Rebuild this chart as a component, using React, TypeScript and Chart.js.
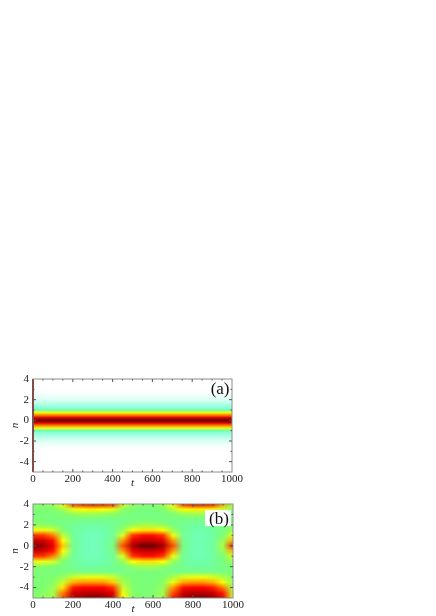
import React, { useEffect, useRef } from "react";
import { Chart, registerables } from "chart.js";

Chart.register(...registerables);

const xTicks = [0, 200, 400, 600, 800, 1000];
const xMinorTicks = [50, 100, 150, 200, 250, 300, 350, 400, 450, 500, 550, 600, 650, 700, 750, 800, 850, 900, 950];
const yTicks = [4, 2, 0, -2, -4];
const yMinorTicks = [3, 2, 1, 0, -1, -2, -3, -4];

const rowsA = [4, 3.75, 3.5, 3.25, 3, 2.75, 2.5, 2.25, 2, 1.75, 1.5, 1.25, 1, 0.75, 0.5, 0.25, 0, -0.25, -0.5, -0.75, -1, -1.25, -1.5, -1.75, -2, -2.25, -2.5, -2.75, -3, -3.25, -3.5, -3.75, -4, -4.25, -4.5, -4.75, -5];
const colsA = [0, 1000];
const profileA = [0, 0, 0, 0, 0, 0.01, 0.025, 0.05, 0.09, 0.14, 0.2, 0.26, 0.34, 0.58, 0.7, 0.84, 0.98, 0.84, 0.7, 0.58, 0.34, 0.26, 0.2, 0.14, 0.09, 0.05, 0.025, 0.01, 0, 0, 0, 0, 0, 0, 0, 0, 0];

const rowsB = [4, 3.5, 3, 2.5, 2, 1.5, 1, 0.5, 0, -0.5, -1, -1.5, -2, -2.5, -3, -3.5, -4, -4.5, -5];
const colsB = [0, 50, 100, 150, 200, 250, 300, 350, 400, 450, 500, 550, 600, 650, 700, 750, 800, 850, 900, 950, 1000];
const gridB = [
  [.46, .46, .49, .60, .76, .82, .84, .84, .78, .56, .47, .45, .45, .48, .60, .78, .84, .85, .82, .68, .50],
  [.44, .44, .45, .49, .57, .60, .61, .60, .57, .47, .44, .43, .43, .45, .52, .59, .61, .61, .59, .53, .46],
  [.43, .43, .43, .45, .47, .48, .48, .47, .46, .43, .42, .41, .41, .42, .44, .47, .48, .48, .47, .45, .44],
  [.44, .43, .42, .42, .42, .41, .41, .41, .41, .41, .42, .43, .43, .42, .41, .41, .41, .41, .41, .42, .43],
  [.47, .46, .45, .42, .39, .37, .36, .37, .39, .42, .47, .49, .49, .47, .42, .39, .37, .37, .38, .41, .45],
  [.58, .58, .55, .45, .38, .35, .34, .35, .38, .48, .60, .62, .62, .60, .48, .39, .35, .35, .37, .42, .48],
  [.76, .76, .70, .52, .38, .34, .33, .34, .38, .56, .76, .79, .79, .76, .58, .39, .34, .34, .36, .44, .56],
  [.86, .85, .79, .60, .39, .34, .33, .34, .40, .68, .83, .86, .86, .83, .68, .40, .34, .34, .37, .48, .66],
  [.95, .92, .82, .64, .40, .34, .33, .34, .42, .74, .90, .97, .97, .90, .74, .42, .34, .34, .37, .50, .78],
  [.86, .85, .79, .60, .39, .34, .33, .34, .40, .68, .83, .86, .86, .83, .68, .40, .34, .34, .37, .48, .66],
  [.76, .76, .70, .52, .38, .34, .33, .34, .38, .56, .76, .79, .79, .76, .58, .39, .34, .34, .36, .44, .56],
  [.58, .58, .55, .45, .38, .35, .34, .35, .38, .48, .60, .62, .62, .60, .48, .39, .35, .35, .37, .42, .48],
  [.47, .46, .45, .42, .39, .37, .36, .37, .39, .42, .47, .49, .49, .47, .42, .39, .37, .37, .38, .41, .45],
  [.44, .43, .42, .42, .42, .41, .41, .41, .41, .41, .42, .43, .43, .42, .41, .41, .41, .41, .41, .42, .43],
  [.45, .44, .45, .48, .54, .57, .58, .57, .54, .47, .44, .43, .43, .45, .50, .56, .58, .58, .56, .51, .46],
  [.44, .44, .46, .54, .66, .68, .68, .68, .64, .50, .44, .43, .43, .46, .58, .67, .68, .68, .66, .59, .47],
  [.44, .45, .48, .62, .78, .80, .80, .80, .76, .54, .45, .44, .44, .48, .68, .79, .80, .80, .78, .70, .50],
  [.45, .46, .49, .70, .85, .87, .88, .87, .83, .58, .46, .44, .44, .49, .74, .86, .88, .88, .86, .78, .53],
  [.46, .47, .50, .74, .89, .93, .96, .93, .87, .60, .46, .45, .45, .50, .78, .90, .95, .96, .92, .82, .56],
];

const colorStops: [number, number[]][] = [
  [0, [255, 255, 255]],
  [0.3, [127, 255, 212]],
  [0.35, [110, 255, 170]],
  [0.45, [125, 255, 110]],
  [0.6, [255, 255, 0]],
  [0.7, [255, 128, 0]],
  [0.8, [255, 0, 0]],
  [1, [80, 0, 0]],
];

function colorOf(v: number) {
  for (let i = 1; i < colorStops.length; i++) {
    const [b, cb] = colorStops[i];
    const [a, ca] = colorStops[i - 1];
    if (v <= b) {
      const f = (v - a) / (b - a);
      return ca.map((c, k) => Math.round(c + (cb[k] - c) * f));
    }
  }
  return colorStops[colorStops.length - 1][1];
}

const heatPlugin = {
  id: "heat",
  beforeDatasetsDraw(chart: any) {
    const o = chart.options.plugins.heat;
    const { rows, cols, values } = o;
    const off = document.createElement("canvas");
    off.width = cols.length;
    off.height = rows.length;
    const octx = off.getContext("2d")!;
    const img = octx.createImageData(cols.length, rows.length);
    rows.forEach((_: number, r: number) =>
      cols.forEach((_c: number, c: number) => {
        const col = colorOf(values[r][c]);
        const p = (r * cols.length + c) * 4;
        img.data[p] = col[0];
        img.data[p + 1] = col[1];
        img.data[p + 2] = col[2];
        img.data[p + 3] = 255;
      })
    );
    octx.putImageData(img, 0, 0);
    const { x, y } = chart.scales;
    const dt = (cols[cols.length - 1] - cols[0]) / (cols.length - 1);
    const dn = (rows[0] - rows[rows.length - 1]) / (rows.length - 1);
    const x0 = x.getPixelForValue(cols[0] - dt / 2);
    const x1 = x.getPixelForValue(cols[cols.length - 1] + dt / 2);
    const y0 = y.getPixelForValue(rows[0] + dn / 2);
    const y1 = y.getPixelForValue(rows[rows.length - 1] - dn / 2);
    const ctx = chart.ctx;
    const a = chart.chartArea;
    ctx.save();
    ctx.beginPath();
    ctx.rect(a.left, a.top, a.width, a.height);
    ctx.clip();
    ctx.imageSmoothingEnabled = true;
    ctx.imageSmoothingQuality = "medium";
    ctx.drawImage(off, x0, y0, x1 - x0, y1 - y0);
    ctx.restore();
  },
  afterDraw(chart: any) {
    const { x, y } = chart.scales;
    const a = chart.chartArea;
    const ctx = chart.ctx;
    const o = chart.options.plugins.heat;
    ctx.save();
    ctx.strokeStyle = "#8a8f8a";
    ctx.lineWidth = 1;
    ctx.strokeRect(a.left, a.top, a.width, a.height);
    ctx.strokeStyle = "#555";
    ctx.beginPath();
    xMinorTicks.forEach((t) => {
      const px = x.getPixelForValue(t);
      const len = t % 200 === 0 ? 3 : 1.5;
      ctx.moveTo(px, a.bottom);
      ctx.lineTo(px, a.bottom - len);
      ctx.moveTo(px, a.top);
      ctx.lineTo(px, a.top + len);
    });
    yMinorTicks.forEach((n) => {
      const py = y.getPixelForValue(n);
      const len = n % 2 === 0 ? 3 : 1.5;
      ctx.moveTo(a.left, py);
      ctx.lineTo(a.left + len, py);
      ctx.moveTo(a.right, py);
      ctx.lineTo(a.right - len, py);
    });
    ctx.stroke();
    const lx = x.getPixelForValue(o.labelT);
    const ly = y.getPixelForValue(o.labelN);
    if (o.labelBox) {
      ctx.fillStyle = "#fff";
      ctx.fillRect(lx - 14, ly - 9, 26, 16);
    }
    ctx.font = "17px 'Liberation Serif'";
    ctx.textAlign = "center";
    ctx.textBaseline = "middle";
    ctx.fillStyle = "#111";
    ctx.fillText(o.label, lx, ly);
    ctx.restore();
  },
};

function makeConfig(rows: number[], cols: number[], values: number[][], label: string, labelT: number, labelN: number, labelBox: boolean, plotW: number, plotH: number, left: number, top: number, edge: boolean, canvasH: number, tPad: number) {
  const datasets: any[] = [];
  if (edge) {
    datasets.push({
      type: "line",
      data: [{ x: 0, y: -5 }, { x: 0, y: 4 }],
      borderColor: "#7a0a0a",
      borderWidth: 2,
      pointRadius: 0,
      clip: false,
    });
  } else {
    datasets.push({ type: "line", data: [], pointRadius: 0 });
  }
  const tickFont = { family: "'Liberation Serif'", size: 11 };
  return {
    type: "line",
    data: { datasets },
    plugins: [heatPlugin],
    options: {
      responsive: false,
      animation: false,
      layout: { padding: { top, left: 0, right: 250 - left - plotW, bottom: 0 } },
      plugins: {
        legend: { display: false },
        tooltip: { enabled: false },
        heat: { rows, cols, values, label, labelT, labelN, labelBox },
      },
      scales: {
        x: {
          type: "linear",
          min: 0,
          max: 1000,
          afterFit: (s: any) => { s.height = canvasH - top - plotH; },
          afterBuildTicks: (s: any) => { s.ticks = xTicks.map((value) => ({ value })); },
          border: { display: false },
          grid: { display: false, drawTicks: false, tickLength: 0 },
          ticks: { color: "#222", font: tickFont, padding: 1, maxRotation: 0, autoSkip: false, callback: (v: any) => String(v) },
          title: { display: true, text: "t", color: "#111", font: { family: "'Liberation Serif'", size: 11, style: "italic" }, padding: { top: tPad, bottom: 0 } },
        },
        y: {
          type: "linear",
          min: -5,
          max: 4,
          afterFit: (s: any) => { s.width = left; },
          afterBuildTicks: (s: any) => { s.ticks = yTicks.map((value) => ({ value })); },
          border: { display: false },
          grid: { display: false, drawTicks: false, tickLength: 0 },
          ticks: { color: "#222", font: tickFont, padding: 4, autoSkip: false, callback: (v: any) => String(v) },
          title: { display: true, text: "n", color: "#111", font: { family: "'Liberation Serif'", size: 11, style: "italic" }, padding: { top: 9, bottom: 0 } },
        },
      },
    },
  };
}

function Panel({ top, height, config }: { top: number; height: number; config: () => any }) {
  const ref = useRef<HTMLCanvasElement>(null);
  useEffect(() => {
    const chart = new Chart(ref.current!, config());
    return () => chart.destroy();
  }, []);
  return (
    <canvas
      ref={ref}
      width={250}
      height={height}
      style={{ position: "absolute", left: 0, top, width: 250, height, filter: "blur(0.45px)" }}
    />
  );
}

const valuesA = profileA.map((v) => colsA.map(() => v));

export default function App() {
  return (
    <div style={{ position: "absolute", left: 0, top: 0, width: 436, height: 616, overflow: "hidden", background: "#fff" }}>
      <Panel top={365} height={125} config={() => makeConfig(rowsA, colsA, valuesA, "(a)", 940, 3.0, false, 199, 93, 33, 14, true, 125, 0)} />
      <Panel top={490} height={126} config={() => makeConfig(rowsB, colsB, gridB, "(b)", 930, 2.55, true, 200, 94, 33, 14, false, 126, 2)} />
    </div>
  );
}
